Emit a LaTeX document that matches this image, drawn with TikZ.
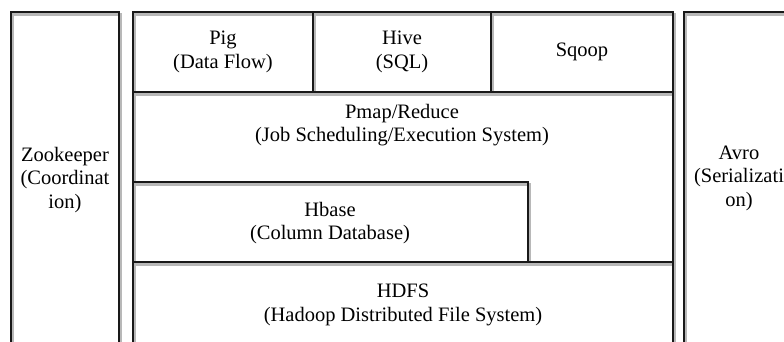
\documentclass[tikz,border=0pt]{standalone}
\usepackage{fontspec}
\setmainfont{Liberation Serif}
% all frame lines of the stack, drawn once as a soft shadow and once in black
\newcommand\stackframes[1]{%
  \draw[#1] (11,360) -- (11,12) -- (119,12) -- (119,360);
  \draw[#1] (684,360) -- (684,12) -- (795,12) -- (795,360);
  \draw[#1] (133,360) -- (133,12) -- (673,12) -- (673,360);
  \draw[#1] (133,92) -- (673,92);
  \draw[#1] (313,12) -- (313,92);
  \draw[#1] (491,12) -- (491,92);
  \draw[#1] (133,182) -- (528,182) -- (528,262);
  \draw[#1] (133,262) -- (673,262);
}
\begin{document}
\begin{tikzpicture}[x=1pt,y=-1pt,
  box/.style={draw=black!90, line width=2.9pt},
  boxshadow/.style={draw=black!28, line width=3.4pt},
  lbl/.style={font=\fontsize{20.5}{23.5}\selectfont, align=center, inner sep=0pt, text=black}]
\useasboundingbox (0,0) rectangle (784,341);
\clip (0,0) rectangle (784,341);
\begin{scope}[shift={(1.2,2.2)}]
  \stackframes{boxshadow}
\end{scope}
\stackframes{box}
% labels
\node[lbl] (pig) at (223,52) {Pig\\(Data Flow)};
\node[lbl] (hive) at (402,52) {Hive\\(SQL)};
\node[lbl] (sqoop) at (582,52) {Sqoop};
\node[lbl] (mapred) at (402,125) {Pmap/Reduce\\(Job Scheduling/Execution System)};
\node[lbl] (hbase) at (330,223) {Hbase\\(Column Database)};
\node[lbl] (hdfs) at (403,305) {HDFS\\(Hadoop Distributed File System)};
\node[lbl] (zk) at (65,180) {Zookeeper\\(Coordinat\\ion)};
\node[lbl] (avro) at (739,178) {Avro\\(Serializati\\on)};
\end{tikzpicture}
\end{document}
